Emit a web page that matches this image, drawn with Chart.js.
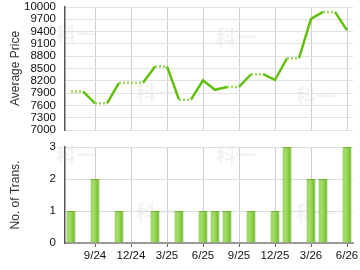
<!DOCTYPE html>
<html><head><meta charset="utf-8">
<script src="https://cdn.jsdelivr.net/npm/chart.js@4/dist/chart.umd.min.js"></script>
<style>
html,body{margin:0;padding:0;background:#fff;width:360px;height:270px;overflow:hidden}
canvas{position:absolute;left:0}
#c1{top:0}
#c2{top:135px}
</style></head>
<body>
<canvas id="c1" width="360" height="135"></canvas>
<canvas id="c2" width="360" height="135"></canvas>
<script>
const months = ['7/24','8/24','9/24','10/24','11/24','12/24','1/25','2/25','3/25','4/25','5/25','6/25','7/25','8/25','9/25','10/25','11/25','12/25','1/26','2/26','3/26','4/26','5/26','6/26'];
const avgPrice = [7940,7940,7650,7650,8150,8150,8150,8550,8550,7740,7740,8210,7980,8050,8050,8360,8360,8220,8750,8750,9710,9880,9880,9430];
const transactions = [1,0,2,0,1,0,0,1,0,1,0,1,1,1,0,1,0,1,3,0,2,2,0,3];
const priceTicks = [7000,7300,7600,7900,8200,8500,8800,9100,9400,9700,10000];
const transTicks = [0,1,2,3];

const FONT = 'Liberation Sans, Arial, sans-serif';
Chart.defaults.font.family = FONT;
Chart.defaults.color = '#333';
Chart.defaults.animation = false;

function shown(i){ return i % 3 === 2; }
function noPad(s){ s.paddingTop = 0; s.paddingBottom = 0; s.paddingLeft = 0; s.paddingRight = 0; }

function watermark(spots){
  return {
    id:'wm',
    beforeDraw(chart){
      const c = chart.ctx;
      c.save();
      c.font = 'bold 20px "Noto Sans CJK SC", sans-serif';
      c.fillStyle = 'rgba(0,0,0,0.05)';
      c.textAlign = 'center'; c.textBaseline = 'middle';
      spots.forEach(p => c.fillText('科一', p[0], p[1]));
      c.restore();
    }
  };
}

new Chart(document.getElementById('c1'), {
  type:'line',
  data:{ labels: months, datasets:[{
    data: avgPrice,
    borderColor:'#62bf0c',
    borderWidth:2.5,
    pointRadius:0,
    tension:0,
    segment:{
      borderDash: ctx => transactions[ctx.p1DataIndex] > 0 ? undefined : [2,2],
      borderColor: ctx => transactions[ctx.p1DataIndex] > 0 ? '#62bf0c' : '#96d860'
    }
  }]},
  options:{
    responsive:false,
    layout:{padding:{left:0,right:7,top:7,bottom:0}},
    plugins:{legend:{display:false},tooltip:{enabled:false}},
    scales:{
      x:{
        offset:true,
        grid:{offset:false, drawTicks:false, color: c => shown(c.index) ? '#cfcfcf' : 'rgba(0,0,0,0)'},
        border:{display:false},
        ticks:{display:false, autoSkip:false},
        afterFit: s => { s.height = 5; noPad(s); }
      },
      y:{
        min:7000, max:10000,
        afterBuildTicks: s => { s.ticks = priceTicks.map(v => ({value:v})); },
        grid:{color:'#e2e2e2', drawTicks:false},
        border:{display:true, color:'#555', width:1.5},
        ticks:{padding:9, font:{size:11.5}, color:'#111', autoSkip:false, callback: v => String(v)},
        title:{display:true, text:'Average Price', font:{size:12}, color:'#333', padding:{top:8,bottom:0}},
        afterFit: s => { s.width = 65; noPad(s); }
      }
    }
  },
  plugins:[watermark([[76,34],[156,93],[236,37],[316,96]])]
});

const barGrad = ctx => {
  const ch = ctx.chart; const xs = ch.scales && ch.scales.x;
  if (!xs || ctx.dataIndex === undefined) return '#8ed14a';
  const cx = xs.getPixelForValue(ctx.dataIndex);
  if (!Number.isFinite(cx)) return '#8ed14a';
  const g = ch.ctx.createLinearGradient(cx-4.5,0,cx+4.5,0);
  g.addColorStop(0,'#7cc83a');
  g.addColorStop(0.3,'#a8de70');
  g.addColorStop(0.7,'#86cc44');
  g.addColorStop(1,'#5aa60e');
  return g;
};

new Chart(document.getElementById('c2'), {
  type:'bar',
  data:{ labels: months, datasets:[{
    data: transactions,
    backgroundColor: barGrad,
    borderColor:'#6cb82a',
    borderWidth:1,
    categoryPercentage:1,
    barPercentage:0.75
  }]},
  options:{
    responsive:false,
    layout:{padding:{left:0,right:7,top:12,bottom:0}},
    plugins:{legend:{display:false},tooltip:{enabled:false}},
    scales:{
      x:{
        offset:true,
        grid:{offset:false, tickLength:4, color: c => shown(c.index) ? '#cfcfcf' : 'rgba(0,0,0,0)', tickColor: c => shown(c.index) ? '#666' : 'rgba(0,0,0,0)'},
        border:{display:true, color:'#999', width:2},
        ticks:{autoSkip:false, maxRotation:0, padding:2, font:{size:11.5}, color:'#111',
          callback:(v,i) => shown(i) ? months[i] : ''},
        afterFit: s => { s.height = 27; noPad(s); }
      },
      y:{
        min:0, max:3,
        afterBuildTicks: s => { s.ticks = transTicks.map(v => ({value:v})); },
        grid:{color:'#dedede', drawTicks:false},
        border:{display:true, color:'#555', width:1.5},
        ticks:{padding:9, font:{size:11.5}, color:'#111', autoSkip:false},
        title:{display:true, text:'No. of Trans.', font:{size:12}, color:'#333', padding:{top:8,bottom:0}},
        afterFit: s => { s.width = 65; noPad(s); }
      }
    }
  },
  plugins:[watermark([[76,20],[156,77],[236,20],[316,78]])]
});
</script>
</body></html>
